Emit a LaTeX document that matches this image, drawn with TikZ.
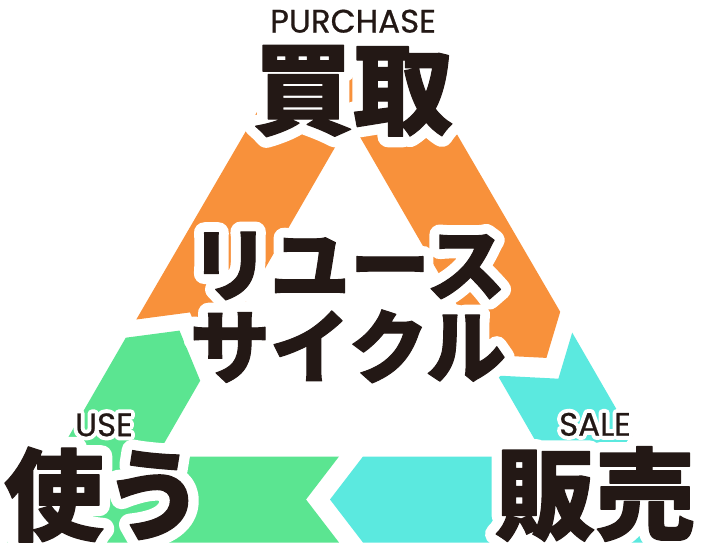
\documentclass[tikz,border=0pt]{standalone}
\usepackage{fontspec}
\usetikzlibrary{positioning}
\newfontfamily\jpfont{Noto Sans CJK JP}[BoldFeatures={FakeBold=1.2}]
\newfontfamily\jphalo{Noto Sans CJK JP}[BoldFeatures={FakeBold=22}]
\newfontfamily\jphalomid{Noto Sans CJK JP}[BoldFeatures={FakeBold=26}]
\newfontfamily\capfont{Poppins}[FakeBold=0.6]
\newfontfamily\caphalo{Poppins}[FakeBold=25]
\definecolor{buyorange}{HTML}{F8913B}
\definecolor{usegreen}{HTML}{5BE591}
\definecolor{sellcyan}{HTML}{5BE9DF}
\definecolor{inkblack}{HTML}{231815}
\newcommand{\haloword}[2]{\rlap{\special{pdf:literal direct 1 j 1 J}\color{white}#1#2}#2}

\begin{document}
\begin{tikzpicture}[x=1pt, y=-1pt, bigword/.style={inner sep=0pt, text=inkblack, font=\jpfont\bfseries\fontsize{100}{100}\selectfont}, midword/.style={inner sep=0pt, text=inkblack, align=center, font=\jpfont\bfseries\fontsize{80}{82}\selectfont}, smallword/.style={inner sep=0pt, text=inkblack, font=\capfont\fontsize{32.5}{32.5}\selectfont}]

    \fill[white] (0,0) rectangle (701,551);
    \useasboundingbox (0,0) rectangle (701,551);

    %Bands
    \fill[buyorange] (286.1,62) -- (414.9,62) -- (560.2,311.8) -- (546.4,357.9) -- (485.8,354.8) -- (350.5,120.5) -- (210.7,362.5) -- (190,312.4) -- (136.3,319.5) -- cycle;
    \fill[sellcyan] (572.2,332.6) -- (693.5,542.5) -- (363,542.5) -- (330,499.5) -- (363,456.5) -- (544.5,456.5) -- (497.8,375.6) -- (558.4,378.7) -- cycle;
    \fill[usegreen] (339,456.5) -- (306,499.5) -- (339,542.5) -- (7.5,542.5) -- (125.8,337.7) -- (179.5,330.6) -- (200.2,380.7) -- (156.5,456.5) -- cycle;

    %Words
    \node[midword](reuse) at (348,307.5){\haloword{\jphalomid}{リユース}\\\haloword{\jphalomid}{サイクル}};
    \node[bigword](buy) at (353,91){\haloword{\jphalo}{買取}};
    \node[bigword](use) at (104,494.5){\haloword{\jphalo}{使う}};
    \node[bigword](sell) at (595,494){\haloword{\jphalo}{販売}};
    \node[smallword](purchase)[above=12pt of buy]{\haloword{\caphalo}{PURCHASE}};
    \node[smallword](use_text)[above=10pt of use]{\haloword{\caphalo}{USE}};
    \node[smallword](sale_text)[above=10pt of sell]{\haloword{\caphalo}{SALE}};

\end{tikzpicture}
\end{document}
